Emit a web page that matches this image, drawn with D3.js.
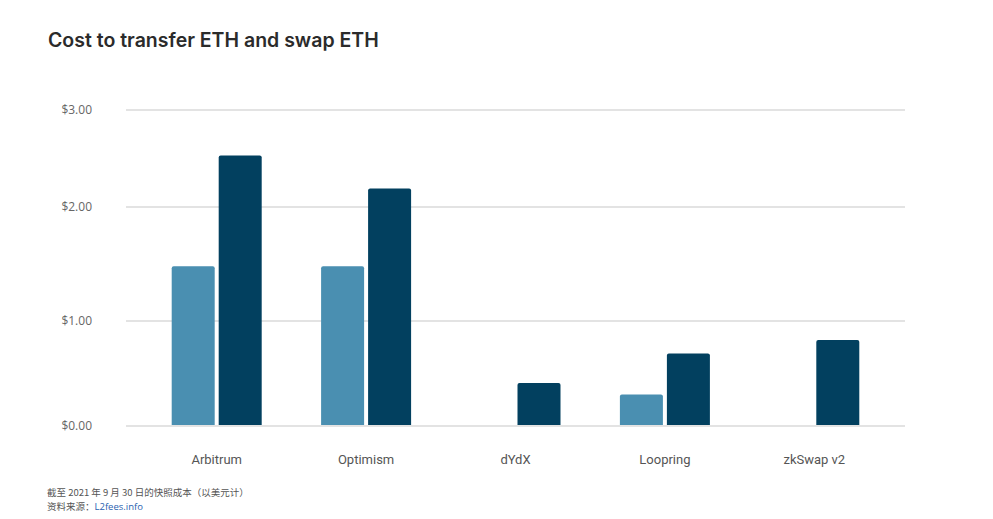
<!DOCTYPE html>
<html>
<head>
<meta charset="utf-8">
<script src="https://cdn.jsdelivr.net/npm/d3@7"></script>
<style>
  html, body { margin: 0; padding: 0; background: #fff; }
  svg { display: block; }
</style>
</head>
<body>
<svg id="chart" width="993" height="519"></svg>
<script>
const categories = ["Arbitrum", "Optimism", "dYdX", "Loopring", "zkSwap v2"];
const seriesNames = ["Transfer ETH", "Swap ETH"];
const transferValues = [1.48, 1.48, null, 0.30, null];
const swapValues = [2.53, 2.19, 0.41, 0.69, 0.82];
const yTicks = [0, 1, 2, 3];
const yTickLabels = ["$0.00", "$1.00", "$2.00", "$3.00"];
const seriesColors = ["#4a8fb1", "#02405f"];

const svg = d3.select("#chart");
const fontFam = "'Open Sans', 'Noto Sans', sans-serif";

// Title
svg.append("text")
  .attr("x", 48).attr("y", 47)
  .attr("font-family", "Inter, 'Open Sans', sans-serif")
  .attr("font-weight", 600)
  .attr("font-size", 19.5)
  .attr("fill", "#2b2b2b")
  .text("Cost to transfer ETH and swap ETH");

// Scales
const x = d3.scaleBand().domain(categories).range([142, 889]);
const xs = d3.scaleBand().domain(seriesNames).range([0, 90]).paddingInner(0.085);
const y = d3.scaleLinear().domain([0, 1, 2, 3]).range([426, 321, 207, 110]);

// Gridlines
svg.append("g").selectAll("line").data(yTicks).join("line")
  .attr("x1", 126).attr("x2", 905)
  .attr("y1", d => y(d)).attr("y2", d => y(d))
  .attr("stroke", "#e3e3e3").attr("stroke-width", 2);

// Y labels
svg.append("g").selectAll("text").data(yTicks).join("text")
  .attr("x", 92).attr("y", d => y(d) + 4)
  .attr("text-anchor", "end")
  .attr("font-family", fontFam).attr("font-size", 12)
  .attr("fill", "#666")
  .text((d, i) => yTickLabels[i]);

// Bars
const rows = [];
categories.forEach((c, i) => {
  [transferValues[i], swapValues[i]].forEach((v, j) => {
    if (v != null) rows.push({ cat: c, series: seriesNames[j], value: v, color: seriesColors[j] });
  });
});

function barPath(x0, w, yTop, yBase, r) {
  return `M${x0},${yBase}V${yTop + r}Q${x0},${yTop} ${x0 + r},${yTop}H${x0 + w - r}Q${x0 + w},${yTop} ${x0 + w},${yTop + r}V${yBase}Z`;
}

svg.append("g").selectAll("path").data(rows).join("path")
  .attr("d", d => {
    const cx = x(d.cat) + x.bandwidth() / 2 - 45;
    return barPath(cx + xs(d.series), xs.bandwidth(), y(d.value), y(0) - 1, 2);
  })
  .attr("fill", d => d.color);

// X axis labels
const xAxis = d3.axisBottom(x).tickSize(0).tickPadding(0);
const gx = svg.append("g").attr("transform", "translate(0,455)").call(xAxis);
gx.select(".domain").remove();
gx.selectAll("text")
  .attr("font-family", "Roboto, sans-serif").attr("font-size", 13)
  .attr("fill", "#555").attr("dy", "0.71em");

// Footnotes
const cjk = "'Noto Sans CJK SC', 'Noto Sans', sans-serif";
svg.append("text")
  .attr("x", 47).attr("y", 496)
  .attr("font-family", cjk).attr("font-size", 9.5).attr("fill", "#555")
  .text("截至 2021 年 9 月 30 日的快照成本（以美元计）");
const src = svg.append("text")
  .attr("x", 47).attr("y", 510)
  .attr("font-family", cjk).attr("font-size", 9.5).attr("fill", "#555");
src.append("tspan").text("资料来源：");
src.append("tspan").attr("fill", "#2a5fb0").attr("font-family", "'Open Sans', sans-serif").text("L2fees.info");
</script>
</body>
</html>
